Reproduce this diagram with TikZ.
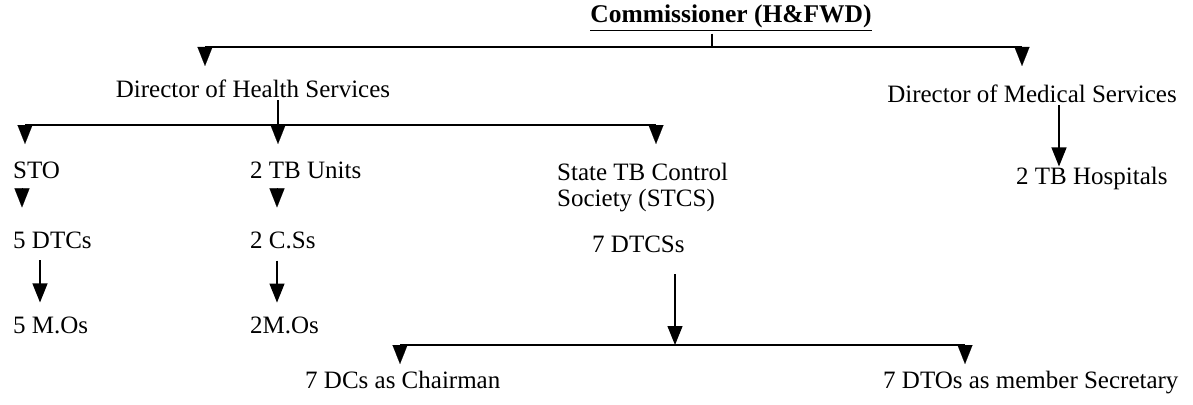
\documentclass[tikz,border=0pt]{standalone}
\usepackage{fontspec}
\setmainfont{Liberation Serif}
\usetikzlibrary{arrows.meta}
\begin{document}
\begin{tikzpicture}[x=1pt,y=-1pt,
  lbl/.style={inner sep=0pt,font=\fontsize{25}{26}\selectfont,anchor=base west},
  ln/.style={line width=1.3pt},
  arr/.style={line width=1.3pt,-{Triangle[width=15pt,length=19pt]}},
  hd/.style={line width=0.1pt,-{Triangle[width=15pt,length=19pt]}}]
\useasboundingbox (0,0) rectangle (1193,404);
% texts
\node[lbl,anchor=base,font=\fontsize{25.5}{28}\selectfont\bfseries] (com) at (731,23) {\underline{Commissioner (H\&FWD)}};
\node[lbl,anchor=base] (dhs) at (253,97) {Director of Health Services};
\node[lbl,anchor=base] (dms) at (1032,102) {Director of Medical Services};
\node[lbl] (sto) at (13,178) {STO};
\node[lbl] (tbu) at (250,178) {2 TB Units};
\node[lbl] (stcs) at (557,180) {State TB Control};
\node[lbl] (stcs2) at (557,206) {Society (STCS)};
\node[lbl] (dtc) at (13,248) {5 DTCs};
\node[lbl] (cs) at (250,248) {2 C.Ss};
\node[lbl] (dtcs) at (592,252) {7 DTCSs};
\node[lbl] (mo1) at (13,333) {5 M.Os};
\node[lbl] (mo2) at (250,333) {2M.Os};
\node[lbl] (tbh) at (1016,184) {2 TB Hospitals};
\node[lbl] (dc) at (305,388) {7 DCs as Chairman};
\node[lbl] (dto) at (883,388) {7 DTOs as member Secretary};
% top level
\coordinate (b1l) at (205,47);
\coordinate (b1r) at (1022,47);
\coordinate (b1m) at (712,47);
\draw[ln] (com.south -| b1m) ++(0,3) -- (b1m);
\draw[ln] (b1l) -- (b1r);
\draw[hd] (b1l) -- (205,66);
\draw[hd] (b1r) -- (1022,66);
% DHS level
\coordinate (b2l) at (25,125);
\coordinate (b2m) at (278,125);
\coordinate (b2r) at (656,125);
\draw[ln] (dhs.south -| b2m) ++(0,3) -- (b2m);
\draw[ln] (b2l) -- (b2r);
\draw[hd] (b2l) -- (25,144);
\draw[hd] (b2m) -- (278,144);
\draw[hd] (b2r) -- (656,144);
% sub arrows
\draw[hd] (sto.south -| 22,0) ++(0,10) -- ++(0,19);
\draw[hd] (tbu.south -| 277,0) ++(0,10) -- ++(0,19);
\draw[arr] (dtc.south -| 40,0) ++(0,12) -- ++(0,42);
\draw[arr] (cs.south -| 277,0) ++(0,12) -- ++(0,42);
\draw[arr] (dms.south -| 1059,0) ++(0,3) -- (tbh.north -| 1059,0);
% DTCS level
\coordinate (b3l) at (400,345);
\coordinate (b3m) at (675,345);
\coordinate (b3r) at (965,345);
\draw[arr] (dtcs.south -| b3m) ++(0,22) -- (b3m);
\draw[ln] (b3l) -- (b3r);
\draw[hd] (b3l) -- (400,364);
\draw[hd] (b3r) -- (965,364);
\end{tikzpicture}
\end{document}
